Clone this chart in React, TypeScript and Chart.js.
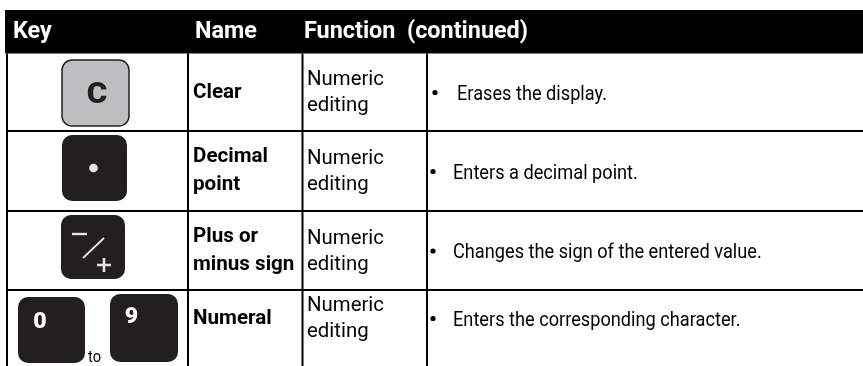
import React, { useEffect, useRef } from "react";
import { Chart, registerables } from "chart.js";

Chart.register(...registerables);

// ---- Table content ----
const headers = ["Key", "Name", "Function  (continued)"];
const keyGlyphs = ["C", "dot", "plusminus", "0-9"];
const names = [["Clear"], ["Decimal", "point"], ["Plus or", "minus sign"], ["Numeral"]];
const functions = [
  ["Numeric", "editing"],
  ["Numeric", "editing"],
  ["Numeric", "editing"],
  ["Numeric", "editing"],
];
const descriptions = [
  "Erases the display.",
  "Enters a decimal point.",
  "Changes the sign of the entered value.",
  "Enters the corresponding character.",
];
const digitRange = ["0", "9"];
const rangeWord = "to";

// ---- Layout (table units) ----
const W = 863;
const H = 366;
const colEdges = [7, 188, 302.5, 427];
const headerBand = [10, 53.5];
const rowEdges = [53.5, 131, 211, 290, 366];
const rowMids = [92, 171, 250.5, 318];

const FONT = "Roboto, 'Noto Sans', 'DejaVu Sans', sans-serif";
const INK = "#000000";
const KEY_DARK = "#231f20";
const KEY_LIGHT = "#bcbec0";
const GLYPH = "#e6e6e6";

function txt(
  ctx: CanvasRenderingContext2D,
  s: string,
  x: number,
  y: number,
  font: string,
  sx: number,
  align: CanvasTextAlign = "left"
) {
  ctx.save();
  ctx.font = font;
  ctx.textAlign = align;
  ctx.textBaseline = "alphabetic";
  ctx.translate(x, y);
  ctx.scale(sx, 1);
  ctx.fillText(s, 0, 0);
  ctx.restore();
}

const tablePlugin = {
  id: "tablePlugin",
  afterDraw(chart: any) {
    const ctx: CanvasRenderingContext2D = chart.ctx;
    const xs = chart.scales.x;
    const ys = chart.scales.y;
    const X = (v: number) => xs.getPixelForValue(v);
    const Y = (v: number) => ys.getPixelForValue(v);
    ctx.save();

    // condensing factors (the original typeface is a condensed grotesque)
    const fReg = `21px ${FONT}`;
    const fName = `bold 21px ${FONT}`;
    const fHead = `bold 24px ${FONT}`;
    ctx.font = fReg;
    const sxReg = 150 / ctx.measureText("Erases the display.").width;
    const sxFunc = 77 / ctx.measureText("Numeric").width;
    ctx.font = fName;
    const sxName = 75 / ctx.measureText("Decimal").width;
    ctx.font = fHead;
    const sxHead = 224 / ctx.measureText("Function  (continued)").width;

    // header band
    ctx.fillStyle = "#000";
    ctx.fillRect(X(5), Y(headerBand[0]), X(W) - X(5), Y(headerBand[1]) - Y(headerBand[0]));
    ctx.fillStyle = "#fff";
    const headerX = [13, 195, 304];
    headers.forEach((h, i) => txt(ctx, h, X(headerX[i]), Y(38), fHead, sxHead));

    // grid lines
    ctx.strokeStyle = INK;
    ctx.lineWidth = 2;
    colEdges.forEach((c) => {
      ctx.beginPath();
      ctx.moveTo(X(c), Y(headerBand[1]));
      ctx.lineTo(X(c), Y(H));
      ctx.stroke();
    });
    rowEdges.slice(1, 4).forEach((r) => {
      ctx.beginPath();
      ctx.moveTo(X(6), Y(r));
      ctx.lineTo(X(W), Y(r));
      ctx.stroke();
    });

    // text cells
    ctx.fillStyle = INK;
    rowMids.forEach((m, i) => {
      const nl = names[i];
      if (nl.length === 1) {
        txt(ctx, nl[0], X(193), Y(m + 5.5), fName, sxName);
      } else {
        nl.forEach((t, k) => txt(ctx, t, X(193), Y(m - 9 + k * 28), fName, sxName));
      }
      functions[i].forEach((t, k) => txt(ctx, t, X(307), Y(m - 7 + k * 26), fReg, sxFunc));
      const bx = i === 0 ? 435 : 433;
      const tx = i === 0 ? 457 : 453;
      ctx.beginPath();
      ctx.arc(X(bx), Y(m + 0.5), 2.6, 0, Math.PI * 2);
      ctx.fill();
      txt(ctx, descriptions[i], X(tx), Y(m + 7.5), fReg, sxReg);
    });

    // key glyphs
    keyGlyphs.forEach((g, i) => {
      const m = rowMids[i];
      if (g === "C") {
        ctx.beginPath();
        ctx.roundRect(X(62), Y(m - 32), 67, 66, 10);
        ctx.fillStyle = KEY_LIGHT;
        ctx.fill();
        ctx.lineWidth = 1.5;
        ctx.strokeStyle = KEY_DARK;
        ctx.stroke();
        ctx.fillStyle = KEY_DARK;
        txt(ctx, "C", X(97), Y(m + 11), `900 29px ${FONT}`, 1.08, "center");
      } else if (g === "dot") {
        ctx.beginPath();
        ctx.roundRect(X(62), Y(m - 36), 65, 66, 10);
        ctx.fillStyle = KEY_DARK;
        ctx.fill();
        ctx.beginPath();
        ctx.arc(X(93.5), Y(m - 3), 4.3, 0, Math.PI * 2);
        ctx.fillStyle = GLYPH;
        ctx.fill();
      } else if (g === "plusminus") {
        ctx.beginPath();
        ctx.roundRect(X(61), Y(215), 64, 64, 10);
        ctx.fillStyle = KEY_DARK;
        ctx.fill();
        ctx.strokeStyle = GLYPH;
        ctx.lineCap = "butt";
        ctx.lineWidth = 2.4;
        ctx.beginPath();
        ctx.moveTo(X(72), Y(234));
        ctx.lineTo(X(87), Y(234));
        ctx.stroke();
        ctx.lineWidth = 1.8;
        ctx.beginPath();
        ctx.moveTo(X(104), Y(238));
        ctx.lineTo(X(83), Y(258));
        ctx.stroke();
        ctx.lineWidth = 2.6;
        ctx.beginPath();
        ctx.moveTo(X(97), Y(265));
        ctx.lineTo(X(111), Y(265));
        ctx.moveTo(X(104), Y(258));
        ctx.lineTo(X(104), Y(272));
        ctx.stroke();
      } else {
        ctx.fillStyle = KEY_DARK;
        ctx.beginPath();
        ctx.roundRect(X(18), Y(297), 67, 66, 10);
        ctx.fill();
        ctx.beginPath();
        ctx.roundRect(X(110), Y(294), 68, 68, 10);
        ctx.fill();
        ctx.fillStyle = "#ffffff";
        txt(ctx, digitRange[0], X(40), Y(328), `900 22px ${FONT}`, 1.05, "center");
        txt(ctx, digitRange[1], X(131.5), Y(323), `900 22px ${FONT}`, 1.05, "center");
        ctx.fillStyle = INK;
        txt(ctx, rangeWord, X(88), Y(362), `17px ${FONT}`, sxReg);
      }
    });

    ctx.restore();
  },
};

export default function App() {
  const ref = useRef<HTMLCanvasElement | null>(null);
  useEffect(() => {
    document.body.style.margin = "0";
    const canvas = ref.current!;
    const chart = new Chart(canvas, {
      type: "scatter",
      data: { datasets: [{ data: [], pointRadius: 0 }] },
      options: {
        animation: false,
        responsive: false,
        devicePixelRatio: 1,
        layout: { padding: 0 },
        plugins: { legend: { display: false }, tooltip: { enabled: false } },
        scales: {
          x: { type: "linear", min: 0, max: W, display: false },
          y: { type: "linear", min: 0, max: H, reverse: true, display: false },
        },
      },
      plugins: [tablePlugin],
    });
    return () => chart.destroy();
  }, []);
  return (
    <div style={{ position: "fixed", left: 0, top: 0, width: W, height: H, background: "#fff" }}>
      <canvas ref={ref} width={W} height={H} style={{ display: "block" }} />
    </div>
  );
}
